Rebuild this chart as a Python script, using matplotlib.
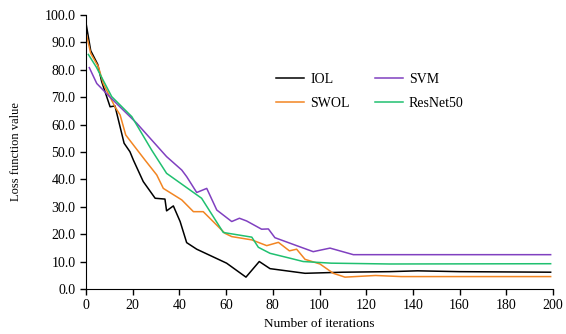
import matplotlib.pyplot as plt

plt.rcParams['font.family'] = ['Liberation Serif', 'DejaVu Serif']

# IOL
iol_x = [0, 2, 5, 6.7, 10.3, 12.4, 16.3, 18.8, 20.3, 24.5, 29.6, 33.8, 34.5, 37.4, 40.3, 43.1,
         47.4, 60.2, 68.5, 74.2, 78.8, 93.8, 110, 130, 142, 160, 199]
iol_y = [97.0, 87.0, 82.0, 75.7, 66.5, 66.8, 53.2, 50.1, 47.0, 39.2, 33.1, 32.8, 28.5, 30.3, 24.6, 16.9,
         14.5, 9.4, 4.3, 10.0, 7.4, 5.7, 6.1, 6.3, 6.6, 6.3, 6.1]

# SWOL
swol_x = [0, 2, 5.3, 7.4, 12.4, 14.6, 17, 25.3, 30.3, 33.1, 41, 46, 50.2, 59.5, 62.4, 71,
          77.4, 82.4, 87.1, 90.2, 93.8, 100.2, 105.9, 110.9, 124, 135, 199]
swol_y = [93.5, 86.0, 81.1, 74.9, 66.5, 63.5, 56.2, 47.0, 41.6, 36.7, 32.5, 28.2, 28.2, 20.3, 19.1, 17.9,
          15.8, 17.0, 13.9, 14.5, 10.8, 9.1, 5.7, 4.3, 4.9, 4.5, 4.5]

# SVM
svm_x = [1.4, 4.6, 10.3, 21.7, 34.5, 41, 43.1, 47.4, 51.7, 56, 62.4, 65.7, 68.8, 75.2, 78.1,
         80.9, 90.2, 97.3, 104.5, 114.5, 199]
svm_y = [80.8, 75.0, 70.0, 60.5, 48.3, 43.4, 41.0, 35.2, 36.7, 28.8, 24.6, 25.8, 24.8, 21.8, 21.9,
         18.7, 15.8, 13.6, 14.9, 12.5, 12.5]

# ResNet50
res_x = [1, 4.4, 11, 19.6, 28.1, 34.5, 49.5, 58.8, 71, 73.8, 78.8, 87.4, 93, 105, 130, 199]
res_y = [85.6, 81.0, 70.2, 62.9, 50.7, 42.2, 33.1, 20.6, 18.9, 15.2, 13.0, 11.2, 10.0, 9.4, 9.1, 9.2]

fig = plt.figure(figsize=(5.66, 3.34), dpi=100)
ax = fig.add_axes([0.152, 0.135, 0.825, 0.82])

ax.plot(iol_x, iol_y, color='black', lw=1.1, label='IOL')
ax.plot(swol_x, swol_y, color='#F28522', lw=1.1, label='SWOL')
ax.plot(svm_x, svm_y, color='#8040C0', lw=1.1, label='SVM')
ax.plot(res_x, res_y, color='#20C070', lw=1.1, label='ResNet50')

ax.set_xlim(0, 200)
ax.set_ylim(0, 100)
ax.set_xticks(range(0, 201, 20))
ax.set_yticks(range(0, 101, 10))
ax.set_yticklabels(['%.1f' % v for v in range(0, 101, 10)])
ax.spines['top'].set_visible(False)
ax.spines['right'].set_visible(False)
ax.tick_params(direction='out', length=4, width=1, labelsize=10)
ax.set_xlabel('Number of iterations', fontsize=9.5, labelpad=4)
ax.set_ylabel('Loss function value', fontsize=9, labelpad=16)

ax.legend(ncol=2, frameon=False, fontsize=10, handlelength=2.0, handletextpad=0.45,
          columnspacing=1.8, labelspacing=0.75, loc='upper left',
          bbox_to_anchor=(0.381, 0.833))

plt.savefig('out.png')
